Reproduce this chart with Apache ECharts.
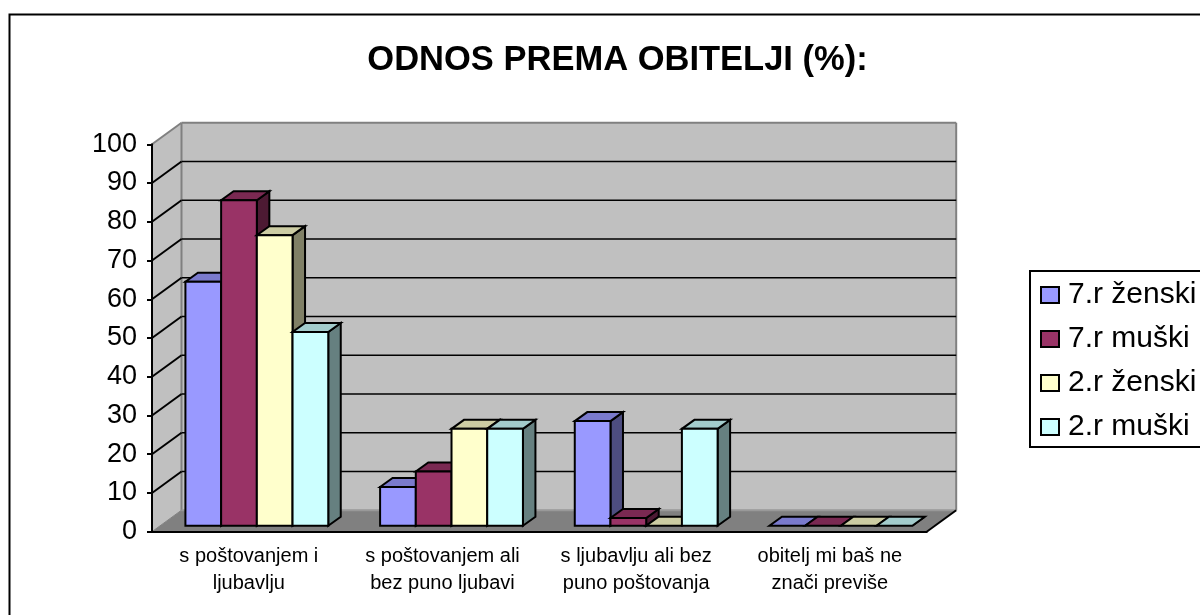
<!DOCTYPE html>
<html>
<head>
<meta charset="utf-8">
<title>Odnos prema obitelji</title>
<style>
html, body { margin: 0; padding: 0; background: #fff; }
#chart { width: 1200px; height: 615px; }
</style>
<script src="https://cdn.jsdelivr.net/npm/echarts@6/dist/echarts.min.js"></script>
</head>
<body>
<div id="chart"></div>
<script>
var categories = ['s poštovanjem i\nljubavlju', 's poštovanjem ali\nbez puno ljubavi', 's ljubavlju ali bez\npuno poštovanja', 'obitelj mi baš ne\nznači previše'];
var seriesNames = ['7.r ženski', '7.r muški', '2.r ženski', '2.r muški'];
var zenski7 = [63, 10, 27, 0];
var muski7 = [84, 14, 2, 0];
var zenski2 = [75, 25, 0, 0];
var muski2 = [50, 25, 25, 0];
var colors = ['#9999FF', '#993366', '#FFFFCC', '#CCFFFF'];
var yTicks = [10, 20, 30, 40, 50, 60, 70, 80, 90];

var FONT = 'Liberation Sans';
var WALL_DX = 29.5, WALL_DY = -21.5;   // dubina "3D" zidova
var BAR_DX = 12.5, BAR_DY = -9;        // dubina stupca
var BAR_SHIFT_X = 8, BAR_SHIFT_Y = -6;
var BAR_DRIFT = 1;                     // skupine su malo razmaknutije od crtica na osi
var BAR_RATIO = 0.7375;

function shade(hex, f) {
    var n = parseInt(hex.slice(1), 16);
    var r = Math.round((n >> 16 & 255) * f),
        g = Math.round((n >> 8 & 255) * f),
        b = Math.round((n & 255) * f);
    return 'rgb(' + r + ',' + g + ',' + b + ')';
}

function poly(points, fill, stroke, width) {
    return {
        type: 'polygon',
        shape: { points: points },
        style: { fill: fill, stroke: stroke || null, lineWidth: width || 0, lineJoin: 'miter' }
    };
}

function line(p1, p2, color, width) {
    return {
        type: 'line',
        shape: { x1: p1[0], y1: p1[1], x2: p2[0], y2: p2[1] },
        style: { stroke: color, lineWidth: width }
    };
}

// zidovi i pod
function renderWalls(params, api) {
    var a = api.coord([0, 0]), top = api.coord([0, 100]);
    var band = api.size([1, 0])[0];
    var x0 = a[0] - band / 2, x1 = x0 + band * categories.length;
    var y0 = a[1], y1 = top[1];
    return {
        type: 'group',
        children: [
            poly([[x0, y0], [x0 + WALL_DX, y0 + WALL_DY], [x0 + WALL_DX, y1 + WALL_DY], [x0, y1]], '#C0C0C0'),
            poly([[x0 + WALL_DX, y0 + WALL_DY], [x1 + WALL_DX, y0 + WALL_DY], [x1 + WALL_DX, y1 + WALL_DY], [x0 + WALL_DX, y1 + WALL_DY]], '#C0C0C0'),
            poly([[x0, y0], [x1, y0], [x1 + WALL_DX, y0 + WALL_DY], [x0 + WALL_DX, y0 + WALL_DY]], '#808080'),
            line([x0, y1], [x0 + WALL_DX, y1 + WALL_DY], '#808080', 2),
            line([x0 + WALL_DX, y1 + WALL_DY], [x1 + WALL_DX, y1 + WALL_DY], '#808080', 2),
            line([x0 + WALL_DX, y1 + WALL_DY], [x0 + WALL_DX, y0 + WALL_DY], '#808080', 2),
            line([x1 + WALL_DX, y1 + WALL_DY], [x1 + WALL_DX, y0 + WALL_DY], '#808080', 2),
            line([x0 + WALL_DX, y0 + WALL_DY], [x1 + WALL_DX, y0 + WALL_DY], '#999999', 2),
            line([x1, y0], [x1 + WALL_DX, y0 + WALL_DY], '#000', 2),
            line([x0, y0], [x0 + WALL_DX, y0 + WALL_DY], '#808080', 1)
        ]
    };
}

// vodoravne linije na zidovima
function renderGrid(params, api) {
    var p = api.coord([0, api.value(0)]);
    var band = api.size([1, 0])[0];
    var x0 = p[0] - band / 2, x1 = x0 + band * categories.length;
    return {
        type: 'group',
        children: [
            line([x0, p[1]], [x0 + WALL_DX, p[1] + WALL_DY], '#000', 2),
            line([x0 + WALL_DX, p[1] + WALL_DY], [x1 + WALL_DX, p[1] + WALL_DY], '#000', 1.5)
        ]
    };
}

function barRenderer(seriesIndex) {
    return function (params, api) {
        var base = api.coord([api.value(0), 0]);
        var topP = api.coord([api.value(0), api.value(1)]);
        var band = api.size([1, 0])[0];
        var w = band * BAR_RATIO / seriesNames.length;
        var left = base[0] - band * BAR_RATIO / 2 + w * seriesIndex + BAR_SHIFT_X + BAR_DRIFT * api.value(0);
        var right = left + w;
        var bottom = base[1] + BAR_SHIFT_Y;
        var top = topP[1] + BAR_SHIFT_Y;
        var c = colors[seriesIndex];
        var children = [
            poly([[right, bottom], [right + BAR_DX, bottom + BAR_DY], [right + BAR_DX, top + BAR_DY], [right, top]], shade(c, 0.5), '#000', 2),
            poly([[left, top], [right, top], [right + BAR_DX, top + BAR_DY], [left + BAR_DX, top + BAR_DY]], shade(c, 0.8), '#000', 2)
        ];
        if (bottom - top > 0.5) {
            children.push(poly([[left, bottom], [right, bottom], [right, top], [left, top]], c, '#000', 2));
        }
        return { type: 'group', children: children };
    };
}

function barData(values) {
    return values.map(function (v, i) { return [i, v]; });
}

var allValues = [zenski7, muski7, zenski2, muski2];
var series = [
    { type: 'custom', name: 'zidovi', renderItem: renderWalls, data: [[0, 0]], silent: true, z: 1 },
    { type: 'custom', name: 'mreza', renderItem: renderGrid, data: yTicks.map(function (t) { return [t]; }), encode: { y: 0 }, silent: true, z: 1 }
];
seriesNames.forEach(function (name, i) {
    series.push({
        type: 'custom',
        name: name,
        renderItem: barRenderer(i),
        data: barData(allValues[i]),
        itemStyle: { color: colors[i] },
        encode: { x: 0, y: 1 },
        z: 2
    });
});

var chart = echarts.init(document.getElementById('chart'), null, { renderer: 'canvas' });
chart.setOption({
    animation: false,
    backgroundColor: '#fff',
    title: {
        text: 'ODNOS PREMA OBITELJI (%):',
        left: 612.5,
        top: 38,
        textAlign: 'center',
        textStyle: { fontFamily: FONT, fontSize: 34.5, fontWeight: 'bold', color: '#000' }
    },
    graphic: [{
        type: 'rect',
        shape: { x: 9.5, y: 14.5, width: 1300, height: 800 },
        style: { fill: null, stroke: '#000', lineWidth: 2 },
        silent: true
    }],
    legend: {
        data: seriesNames,
        orient: 'vertical',
        left: 1030,
        top: 271,
        padding: [7, 30, 3, 10],
        itemWidth: 18,
        itemHeight: 16,
        itemGap: 10,
        icon: 'rect',
        borderColor: '#000',
        borderWidth: 2,
        backgroundColor: '#fff',
        selectedMode: false,
        itemStyle: { borderColor: '#000', borderWidth: 2 },
        textStyle: { fontFamily: FONT, fontSize: 30, lineHeight: 34, color: '#000', padding: [0, 0, 0, 4] }
    },
    grid: { left: 152, right: 273.3, top: 144.3, bottom: 83.3 },
    xAxis: {
        type: 'category',
        data: categories,
        z: 10,
        axisLine: { lineStyle: { color: '#000', width: 2 } },
        axisTick: { length: 4, lineStyle: { color: '#000', width: 2 } },
        axisLabel: { fontFamily: FONT, fontSize: 20, color: '#000', margin: 11, lineHeight: 27, interval: 0 }
    },
    yAxis: {
        type: 'value',
        min: 0,
        max: 100,
        interval: 10,
        z: 10,
        splitLine: { show: false },
        axisLine: { show: true, lineStyle: { color: '#000', width: 2 } },
        axisTick: { show: true, length: 5, lineStyle: { color: '#000', width: 2 } },
        axisLabel: { fontFamily: FONT, fontSize: 27, color: '#000', margin: 15 }
    },
    series: series
});
</script>
</body>
</html>
